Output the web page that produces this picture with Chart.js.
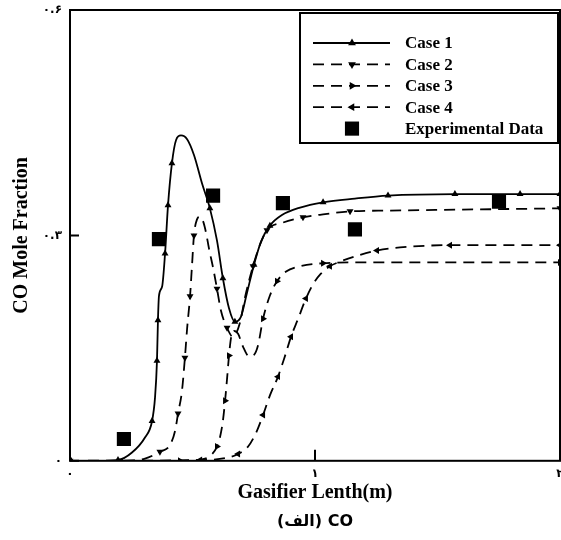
<!DOCTYPE html>
<html>
<head>
<meta charset="utf-8">
<script src="https://cdn.jsdelivr.net/npm/chart.js"></script>
<style>
  html, body { margin: 0; padding: 0; background: #fff; }
  #wrap { width: 561px; height: 540px; }
</style>
</head>
<body>
<div id="wrap"><canvas id="coChart" width="561" height="540"></canvas></div>
<script>
// values (x = gasifier length in m, y = CO mole fraction)
const case1X = [0, 0.122, 0.196, 0.253, 0.306, 0.335, 0.347, 0.355, 0.359, 0.363, 0.376, 0.388, 0.400, 0.416, 0.433, 0.453, 0.478, 0.506, 0.539, 0.571, 0.600, 0.624, 0.649, 0.673, 0.698, 0.722, 0.751, 0.780, 0.816, 0.865, 0.939, 1.033, 1.163, 1.298, 1.571, 1.837, 2.0];
const case1Y = [0, 0, 0.001, 0.011, 0.031, 0.053, 0.084, 0.133, 0.187, 0.219, 0.232, 0.276, 0.340, 0.396, 0.427, 0.433, 0.428, 0.407, 0.369, 0.336, 0.293, 0.243, 0.203, 0.185, 0.192, 0.223, 0.261, 0.292, 0.313, 0.327, 0.337, 0.344, 0.349, 0.353, 0.355, 0.355, 0.355];

const case2X = [0, 0.204, 0.306, 0.367, 0.408, 0.429, 0.441, 0.457, 0.469, 0.478, 0.490, 0.498, 0.506, 0.518, 0.531, 0.543, 0.555, 0.567, 0.584, 0.600, 0.616, 0.641, 0.665, 0.694, 0.714, 0.747, 0.776, 0.804, 0.869, 0.951, 1.033, 1.143, 1.298, 2.0];
const case2Y = [0, 0, 0.003, 0.012, 0.021, 0.040, 0.063, 0.093, 0.137, 0.176, 0.219, 0.260, 0.300, 0.321, 0.325, 0.319, 0.304, 0.283, 0.257, 0.229, 0.200, 0.177, 0.165, 0.184, 0.217, 0.259, 0.288, 0.307, 0.317, 0.324, 0.328, 0.332, 0.333, 0.336];

const case3X = [0, 0.449, 0.551, 0.580, 0.600, 0.612, 0.624, 0.633, 0.641, 0.649, 0.657, 0.669, 0.686, 0.706, 0.731, 0.751, 0.767, 0.788, 0.816, 0.845, 0.882, 0.939, 1.033, 1.155, 2.0];
const case3Y = [0, 0, 0.003, 0.009, 0.019, 0.031, 0.053, 0.080, 0.109, 0.140, 0.163, 0.173, 0.169, 0.152, 0.139, 0.141, 0.153, 0.189, 0.220, 0.239, 0.252, 0.259, 0.263, 0.264, 0.264];

const case4X = [0, 0.531, 0.641, 0.686, 0.727, 0.759, 0.788, 0.816, 0.849, 0.878, 0.902, 0.931, 0.963, 0.992, 1.024, 1.061, 1.102, 1.163, 1.253, 1.347, 1.551, 2.0];
const case4Y = [0, 0.001, 0.004, 0.009, 0.019, 0.037, 0.061, 0.087, 0.112, 0.140, 0.165, 0.189, 0.216, 0.235, 0.249, 0.259, 0.265, 0.272, 0.280, 0.284, 0.287, 0.287];

const expX = [0.220, 0.363, 0.584, 0.869, 1.163, 1.751];
const expY = [0.029, 0.295, 0.353, 0.343, 0.308, 0.345];

const seriesNames = ['Case 1', 'Case 2', 'Case 3', 'Case 4', 'Experimental Data'];
const xTicks = [0, 1, 2];
const xTickLabels = ['۰', '۱', '۲'];
const yTicks = [0, 0.3, 0.6];
const yTickLabels = ['۰', '۰.۳', '۰.۶'];

const serif = 'Liberation Serif';

function toPoints(xs, ys) {
  return xs.map((x, i) => ({ x: x, y: ys[i] }));
}

// show a marker only when it is far enough (in pixels) from the last shown one
function spacedMarker(ctx) {
  if (ctx.type !== 'data') return 4;
  const xs = ctx.chart.scales.x, ys = ctx.chart.scales.y;
  if (!xs || !ys) return 4;
  const data = ctx.dataset.data;
  let last = null;
  for (let i = 0; i <= ctx.dataIndex; i++) {
    const px = xs.getPixelForValue(data[i].x), py = ys.getPixelForValue(data[i].y);
    if (!last || Math.hypot(px - last[0], py - last[1]) >= 38) {
      last = [px, py];
      if (i === ctx.dataIndex) return 4;
    }
  }
  return 0;
}

function lineSet(label, xs, ys, rot, dash) {
  return {
    label: label,
    data: toPoints(xs, ys),
    borderColor: '#000',
    backgroundColor: '#000',
    borderWidth: 1.8,
    borderDash: dash,
    cubicInterpolationMode: 'monotone',
    pointStyle: 'triangle',
    rotation: rot,
    pointRadius: spacedMarker,
    pointBorderWidth: 0,
    fill: false
  };
}

// draw a marker for the legend (same shapes as the chart)
function marker(ctx, style, rot, x, y, r) {
  ctx.beginPath();
  if (style === 'rect') {
    const s = r * Math.SQRT1_2;
    ctx.rect(x - s, y - s, 2 * s, 2 * s);
  } else {
    let a = rot * Math.PI / 180;
    ctx.moveTo(x + Math.sin(a) * r, y - Math.cos(a) * r);
    a += 2 * Math.PI / 3;
    ctx.lineTo(x + Math.sin(a) * r, y - Math.cos(a) * r);
    a += 2 * Math.PI / 3;
    ctx.lineTo(x + Math.sin(a) * r, y - Math.cos(a) * r);
    ctx.closePath();
  }
  ctx.fill();
}

// no extra room for the edge tick labels: the plot box fills the canvas
function noEdgePadding(s) {
  s.paddingLeft = 0;
  s.paddingRight = 0;
  s.paddingTop = 0;
  s.paddingBottom = 0;
}

// frame round the plot, inward ticks and the boxed legend
const frameAndLegend = {
  id: 'frameAndLegend',
  afterDraw(chart) {
    const ctx = chart.ctx;
    const a = chart.chartArea;
    const xs = chart.scales.x, ys = chart.scales.y;
    ctx.save();
    ctx.strokeStyle = '#000';
    ctx.lineWidth = 2;
    ctx.strokeRect(a.left, a.top, a.right - a.left, a.bottom - a.top);
    ctx.beginPath();
    xTicks.forEach(v => {
      const px = xs.getPixelForValue(v);
      ctx.moveTo(px, a.bottom);
      ctx.lineTo(px, a.bottom - 11);
    });
    yTicks.forEach(v => {
      const py = ys.getPixelForValue(v);
      ctx.moveTo(a.left, py);
      ctx.lineTo(a.left + 9, py);
    });
    ctx.stroke();

    // legend box
    const bx = a.right - 260, by = a.top + 3, bw = 258, bh = 130;
    ctx.fillStyle = '#fff';
    ctx.fillRect(bx, by, bw, bh);
    ctx.lineWidth = 2;
    ctx.strokeRect(bx, by, bw, bh);
    ctx.font = 'bold 17px "' + serif + '"';
    ctx.textBaseline = 'middle';
    ctx.textAlign = 'left';
    chart.data.datasets.forEach((ds, i) => {
      const y = by + 30 + i * 21.4;
      ctx.fillStyle = '#000';
      if (ds.showLine !== false) {
        ctx.lineWidth = 1.8;
        ctx.setLineDash(ds.borderDash || []);
        ctx.beginPath();
        ctx.moveTo(bx + 13, y);
        ctx.lineTo(bx + 90, y);
        ctx.stroke();
        ctx.setLineDash([]);
        marker(ctx, 'triangle', ds.rotation, bx + 52, y, 4.5);
      } else {
        marker(ctx, 'rect', 0, bx + 52, y, 10);
      }
      ctx.fillText(ds.label, bx + 105, y + 1);
    });
    ctx.restore();
  }
};

const dash = [11, 7];

new Chart('coChart', {
  type: 'line',
  data: {
    datasets: [
      lineSet(seriesNames[0], case1X, case1Y, 0, []),
      lineSet(seriesNames[1], case2X, case2Y, 180, dash),
      lineSet(seriesNames[2], case3X, case3Y, 90, dash),
      lineSet(seriesNames[3], case4X, case4Y, 270, dash),
      {
        label: seriesNames[4],
        data: toPoints(expX, expY),
        showLine: false,
        pointStyle: 'rect',
        pointRadius: 10,
        pointBorderWidth: 0,
        backgroundColor: '#000',
        borderColor: '#000'
      }
    ]
  },
  options: {
    responsive: false,
    animation: false,
    devicePixelRatio: 1,
    layout: { autoPadding: false, padding: { top: 10, right: 1, left: 0, bottom: 0 } },
    plugins: {
      legend: { display: false },
      tooltip: { enabled: false },
      subtitle: {
        display: true,
        position: 'bottom',
        fullSize: false,
        text: '(الف) CO',
        color: '#000',
        font: { family: 'DejaVu Sans', size: 16, weight: 'bold' },
        padding: { top: 3, bottom: 9 }
      }
    },
    scales: {
      x: {
        type: 'linear',
        min: 0,
        max: 2,
        grid: { display: false, drawTicks: false },
        border: { display: false },
        afterFit: s => { s.height = 48; noEdgePadding(s); },
        afterBuildTicks: s => { s.ticks = xTicks.map(v => ({ value: v })); },
        ticks: {
          color: '#000',
          padding: 6,
          font: { family: 'DejaVu Sans', size: 12, weight: 'bold' },
          maxRotation: 0,
          callback: (v, i) => xTickLabels[i]
        },
        title: {
          display: true,
          text: 'Gasifier Lenth(m)',
          color: '#000',
          font: { family: serif, size: 20, weight: 'bold' },
          padding: { top: 0, bottom: 4 }
        }
      },
      y: {
        type: 'linear',
        min: 0,
        max: 0.6,
        grid: { display: false, drawTicks: false },
        border: { display: false },
        afterFit: s => { s.width = 70; noEdgePadding(s); },
        afterBuildTicks: s => { s.ticks = yTicks.map(v => ({ value: v })); },
        ticks: {
          color: '#000',
          padding: 8,
          font: { family: 'DejaVu Sans', size: 12, weight: 'bold' },
          callback: (v, i) => yTickLabels[i]
        },
        title: {
          display: true,
          text: 'CO Mole Fraction',
          color: '#000',
          font: { family: serif, size: 20, weight: 'bold' },
          padding: { top: 10, bottom: 0 }
        }
      }
    }
  },
  plugins: [frameAndLegend]
});
</script>
</body>
</html>
